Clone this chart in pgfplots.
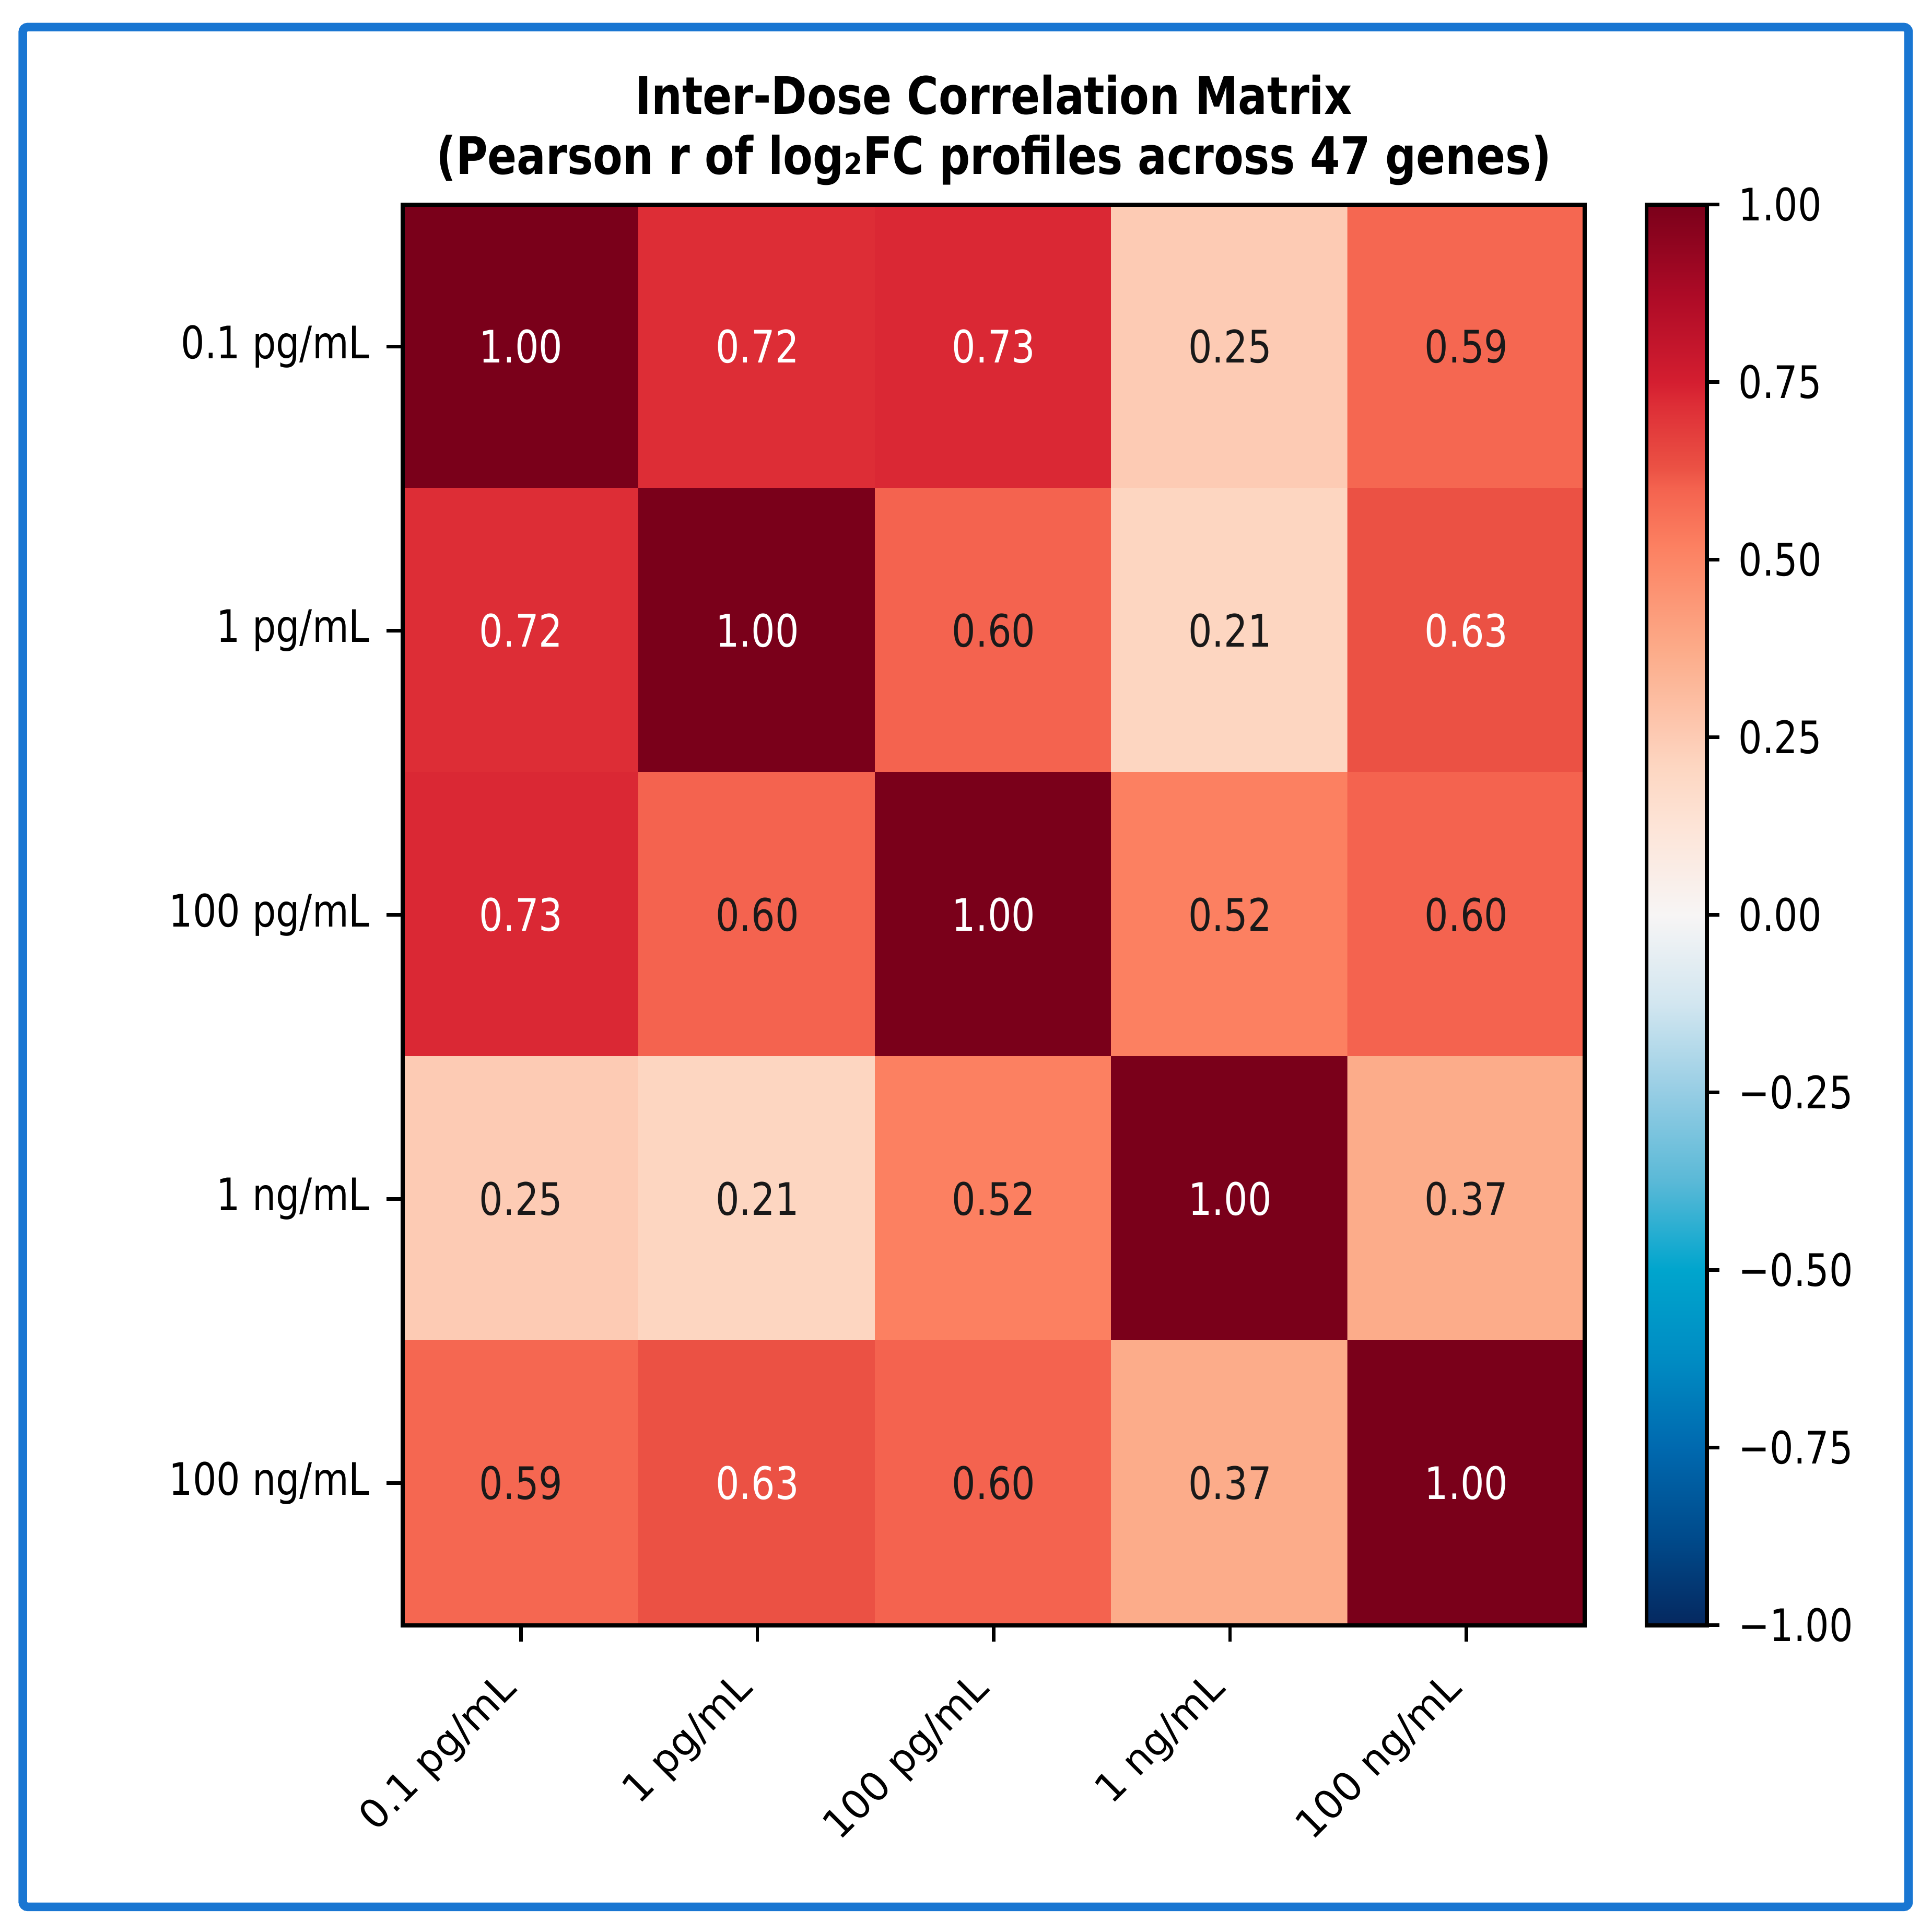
\documentclass[border=0pt]{standalone}
\usepackage{pgfplots}
\usepackage{pgfplotstable}
\pgfplotsset{compat=1.18}
\usepackage{fontspec}
\setmainfont{DejaVu Sans}[FakeStretch=0.835]
\newfontfamily\rotfont{DejaVu Sans}

\definecolor{frameblue}{RGB}{25,118,210}

% diverging red-blue map, positions are (r + 1) in cm
\pgfplotsset{
  colormap={rdbuvivid}{
    rgb255(0cm)=(5,40,95)
    rgb255(0.125cm)=(0,75,140)
    rgb255(0.25cm)=(0,105,175)
    rgb255(0.375cm)=(0,140,195)
    rgb255(0.5cm)=(0,165,205)
    rgb255(0.625cm)=(90,185,215)
    rgb255(0.75cm)=(150,205,228)
    rgb255(0.875cm)=(210,230,240)
    rgb255(1cm)=(247,245,245)
    rgb255(1.125cm)=(253,228,215)
    rgb255(1.21cm)=(253,214,193)
    rgb255(1.25cm)=(253,203,180)
    rgb255(1.37cm)=(252,172,138)
    rgb255(1.52cm)=(252,128,97)
    rgb255(1.6cm)=(244,99,79)
    rgb255(1.63cm)=(235,81,68)
    rgb255(1.72cm)=(221,45,54)
    rgb255(1.75cm)=(212,30,48)
    rgb255(1.875cm)=(172,10,38)
    rgb255(2cm)=(122,0,26)
  }
}

% Pearson r between dose profiles (x = column, y = row)
\pgfplotstableread{
x y r
0 0 1.00
1 0 0.72
2 0 0.73
3 0 0.25
4 0 0.59
0 1 0.72
1 1 1.00
2 1 0.60
3 1 0.21
4 1 0.63
0 2 0.73
1 2 0.60
2 2 1.00
3 2 0.52
4 2 0.60
0 3 0.25
1 3 0.21
2 3 0.52
3 3 1.00
4 3 0.37
0 4 0.59
1 4 0.63
2 4 0.60
3 4 0.37
4 4 1.00
}\corrtable

\newcommand{\tickfont}{\fontsize{10.9bp}{13bp}\selectfont}

\begin{document}
\begin{tikzpicture}
\useasboundingbox (0,0) rectangle (470.4bp,470.4bp);
\draw[frameblue, line width=2.1bp, rounded corners=1.2bp]
  (5.55bp,6.12bp) rectangle (464.7bp,463.8bp);

\begin{axis}[
  at={(98.1bp,74.7bp)}, anchor=south west,
  scale only axis, width=287.7bp, height=345.9bp,
  xmin=-0.5, xmax=4.5, ymin=-0.5, ymax=4.5,
  y dir=reverse, enlargelimits=false, axis on top,
  axis line style={line width=1bp, black},
  xtick={0,...,4}, ytick={0,...,4},
  xticklabels={0.1 pg/mL, 1 pg/mL, 100 pg/mL, 1 ng/mL, 100 ng/mL},
  yticklabels={0.1 pg/mL, 1 pg/mL, 100 pg/mL, 1 ng/mL, 100 ng/mL},
  tick align=outside, xtick pos=bottom, ytick pos=left,
  major tick length=4bp,
  tick style={black, line width=0.8bp},
  xticklabel style={font=\rotfont\fontsize{9.7bp}{12bp}\selectfont,
    inner sep=0pt, xshift=-5.8bp, yshift=-6.5bp, rotate=45, anchor=north east},
  yticklabel style={font=\tickfont, inner sep=0pt, anchor=east, xshift=-3.9bp},
  /pgf/number format/assume math mode=true,
  colormap name=rdbuvivid,
  point meta min=-1, point meta max=1,
  colorbar,
  colorbar style={
    at={(parent axis.north east)}, anchor=north west, xshift=6.6bp,
    width=14.7bp,
    axis line style={line width=1bp, black},
    ytick={-1,-0.75,-0.5,-0.25,0,0.25,0.5,0.75,1},
    yticklabels={−1.00,−0.75,−0.50,−0.25,0.00,0.25,0.50,0.75,1.00},
    tick align=outside, ytick pos=right,
    major tick length=3bp,
    tick style={black, line width=0.8bp},
    yticklabel style={font=\tickfont, inner sep=0pt, anchor=west, xshift=4.5bp},
  },
  cell label/.style={only marks, mark=none, point meta=explicit,
    nodes near coords={\pgfmathprintnumber[fixed,zerofill,precision=2]{\pgfplotspointmeta}},
    every node near coord/.append style={font=\tickfont, anchor=center, inner sep=0pt, text=#1}},
]
\addplot[matrix plot*, mesh/cols=5, point meta=explicit]
  table[x=x, y=y, meta=r] {\corrtable};
% strong correlations get white labels, the rest dark ones
\addplot[cell label=white, restrict expr to domain={\thisrow{r}}{0.61:2}]
  table[x=x, y=y, meta=r] {\corrtable};
\addplot[cell label=black!90, restrict expr to domain={\thisrow{r}}{-2:0.61}]
  table[x=x, y=y, meta=r] {\corrtable};
\end{axis}

\node[anchor=base, font=\bfseries\fontsize{12.6bp}{14.6bp}\selectfont]
  at (241.95bp,442.6bp) {Inter-Dose Correlation Matrix};
\node[anchor=base, font=\bfseries\fontsize{12.6bp}{14.6bp}\selectfont]
  at (241.95bp,428.0bp) {(Pearson r of log₂FC profiles across 47 genes)};
\end{tikzpicture}
\end{document}
